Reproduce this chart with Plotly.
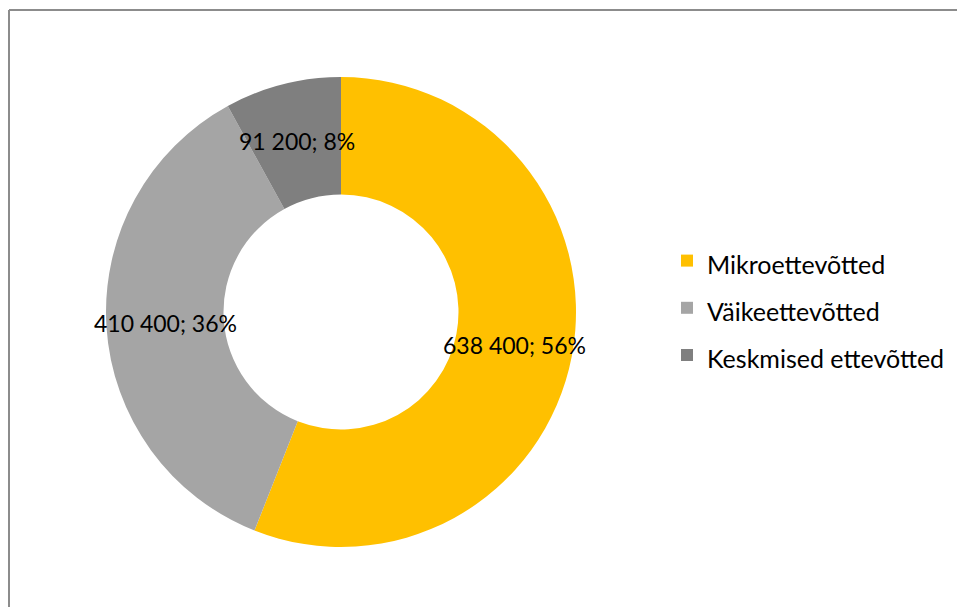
import math
import plotly.graph_objects as go

labels = ["Mikroettevõtted", "Väikeettevõtted", "Keskmised ettevõtted"]
values = [638400, 410400, 91200]
colors = ["#FFC000", "#A5A5A5", "#7F7F7F"]

W, H = 957, 607
cx, cy, r = 341, 312, 235
hole = 0.5

# bigger legend font only sets the row spacing; the span keeps the visible text smaller
legend_names = ["<span style='font-size:25px'>%s</span>" % s for s in labels]

fig = go.Figure(go.Pie(
    labels=legend_names,
    values=values,
    hole=hole,
    sort=False,
    direction="clockwise",
    rotation=0,
    marker=dict(colors=colors, line=dict(width=0)),
    textinfo="none",
    hoverinfo="skip",
    domain=dict(x=[(cx - r) / W, (cx + r) / W],
                y=[(H - cy - r) / H, (H - cy + r) / H]),
))

# data labels at the middle of each ring segment, like Excel does
total = sum(values)
rm = r * (1 + hole) / 2
start = 0
annotations = []
for v in values:
    mid = 2 * math.pi * (start + v / 2) / total
    start += v
    annotations.append(dict(
        x=(cx + rm * math.sin(mid)) / W, y=(H - cy + rm * math.cos(mid)) / H,
        xref="paper", yref="paper", xanchor="center", yanchor="middle", showarrow=False,
        text=f"{v:,}".replace(",", " ") + f"; {round(100 * v / total)}%",
        font=dict(family="Lato", size=23, color="black"),
    ))

fig.update_layout(
    width=W, height=H,
    margin=dict(l=0, r=0, t=0, b=0),
    paper_bgcolor="white",
    font=dict(family="Lato", color="black"),
    annotations=annotations,
    legend=dict(x=667 / W, xanchor="left", y=(H - 308) / H, yanchor="middle",
                font=dict(size=34), bgcolor="rgba(0,0,0,0)"),
    shapes=[
        dict(type="line", xref="paper", yref="paper", x0=9 / W, x1=1, y0=1 - 10 / H, y1=1 - 10 / H,
             line=dict(color="#8C8C8C", width=2)),
        dict(type="line", xref="paper", yref="paper", x0=9 / W, x1=9 / W, y0=0, y1=1 - 10 / H,
             line=dict(color="#8C8C8C", width=2)),
    ],
)

fig.write_html("out.html", config={"displayModeBar": False},
               post_script="document.body.style.margin='0';")
